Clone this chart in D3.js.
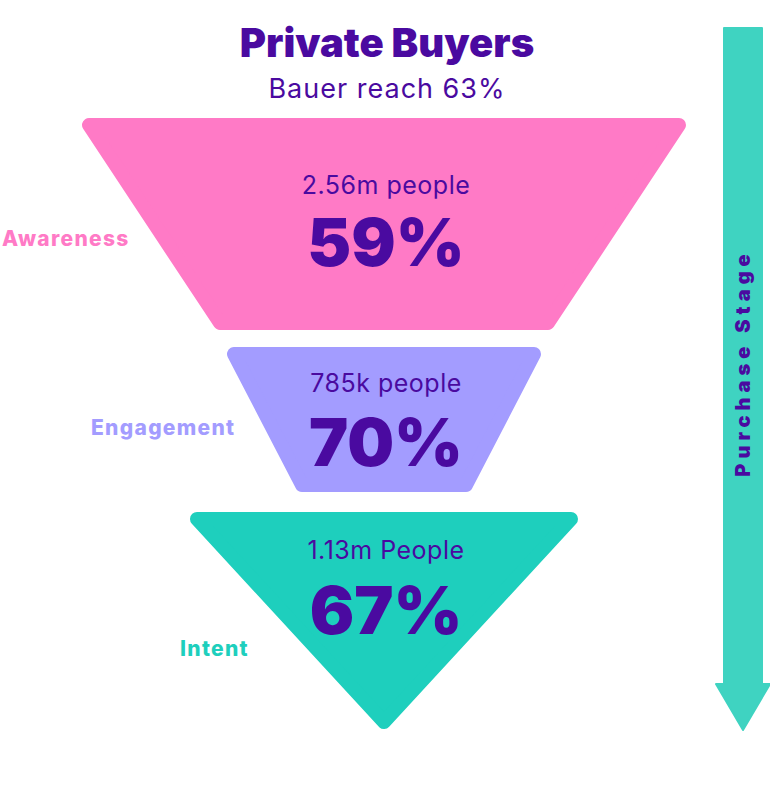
<!DOCTYPE html>
<html><head><meta charset="utf-8">
<script src="https://cdn.jsdelivr.net/npm/d3@7"></script>
<style>body{margin:0;background:#fff}</style>
</head><body><div id="chart"></div>
<script>
// funnel stages
const stages = ["Awareness", "Engagement", "Intent"];
const people = ["2.56m people", "785k people", "1.13m People"];
const percents = ["59%", "70%", "67%"];
const colors = ["#ff7ac6", "#a39cff", "#1ecfbd"];

const width = 770, height = 791;
const dark = "#4a0aa0";
const font = "Inter, 'Noto Sans', sans-serif";

const svg = d3.select("#chart").append("svg")
    .attr("width", width).attr("height", height);

// shape geometry per stage: top y, bottom y, top half-width, bottom half-width
const shapes = [
  {cx: 384, y0: 118, y1: 330, w0: 304, w1: 168},
  {cx: 384, y0: 347, y1: 492, w0: 159, w1: 86},
  {cx: 384, y0: 512, y1: 732, w0: 196, w1: 0}
];
const labelPos = [{x: 2, y: 246}, {x: 91, y: 435}, {x: 180, y: 656}];

const line = d3.line().curve(d3.curveLinearClosed);

// inset points so the rounded stroke keeps the outline size
svg.selectAll("path.stage")
  .data(shapes)
  .enter().append("path")
    .attr("class", "stage")
    .attr("d", d => {
      const b = d.w1 > 0 ? d.w1 - 4 : 0;
      const yb = d.w1 > 0 ? d.y1 - 7 : d.y1 - 10;
      return line([
        [d.cx - d.w0 + 9, d.y0 + 7], [d.cx + d.w0 - 9, d.y0 + 7],
        [d.cx + b, yb], [d.cx - b, yb]]);
    })
    .attr("fill", (d, i) => colors[i])
    .attr("stroke", (d, i) => colors[i])
    .attr("stroke-width", 14)
    .attr("stroke-linejoin", "round");

svg.selectAll("text.people")
  .data(shapes)
  .enter().append("text")
    .attr("x", d => d.cx + 2)
    .attr("y", (d, i) => [194, 392, 559][i])
    .attr("text-anchor", "middle")
    .attr("font-family", font).attr("font-size", 25).attr("letter-spacing", 0.5)
    .attr("fill", dark)
    .text((d, i) => people[i]);

svg.selectAll("text.pct")
  .data(shapes)
  .enter().append("text")
    .attr("x", d => d.cx + 2)
    .attr("y", (d, i) => [266, 466, 634][i])
    .attr("text-anchor", "middle")
    .attr("font-family", font).attr("font-size", 66).attr("font-weight", 900)
    .attr("fill", dark)
    .text((d, i) => percents[i]);

svg.selectAll("text.label")
  .data(stages)
  .enter().append("text")
    .attr("x", (d, i) => labelPos[i].x)
    .attr("y", (d, i) => labelPos[i].y)
    .attr("font-family", font).attr("font-size", 21).attr("font-weight", 800)
    .attr("letter-spacing", 1.3)
    .attr("fill", (d, i) => colors[i])
    .text(d => d);

// titles
svg.append("text").attr("x", 387).attr("y", 57).attr("text-anchor", "middle")
  .attr("font-family", font).attr("font-size", 40).attr("font-weight", 900)
  .attr("fill", dark).text("Private Buyers");
svg.append("text").attr("x", 387).attr("y", 98).attr("text-anchor", "middle")
  .attr("font-family", font).attr("font-size", 27).attr("letter-spacing", 1)
  .attr("fill", dark).text("Bauer reach 63%");

// purchase stage arrow
svg.append("path")
  .attr("d", line([[724, 28], [762, 28], [762, 684], [770, 684], [743, 730],
                   [716, 684], [724, 684]]))
  .attr("fill", "#3fd3c1")
  .attr("stroke", "#3fd3c1").attr("stroke-width", 2).attr("stroke-linejoin", "round");
svg.append("text")
  .attr("transform", "translate(750,363) rotate(-90)")
  .attr("text-anchor", "middle")
  .attr("font-family", font).attr("font-size", 20).attr("font-weight", 900)
  .attr("letter-spacing", 5)
  .attr("fill", dark).text("Purchase Stage");
</script></body></html>
